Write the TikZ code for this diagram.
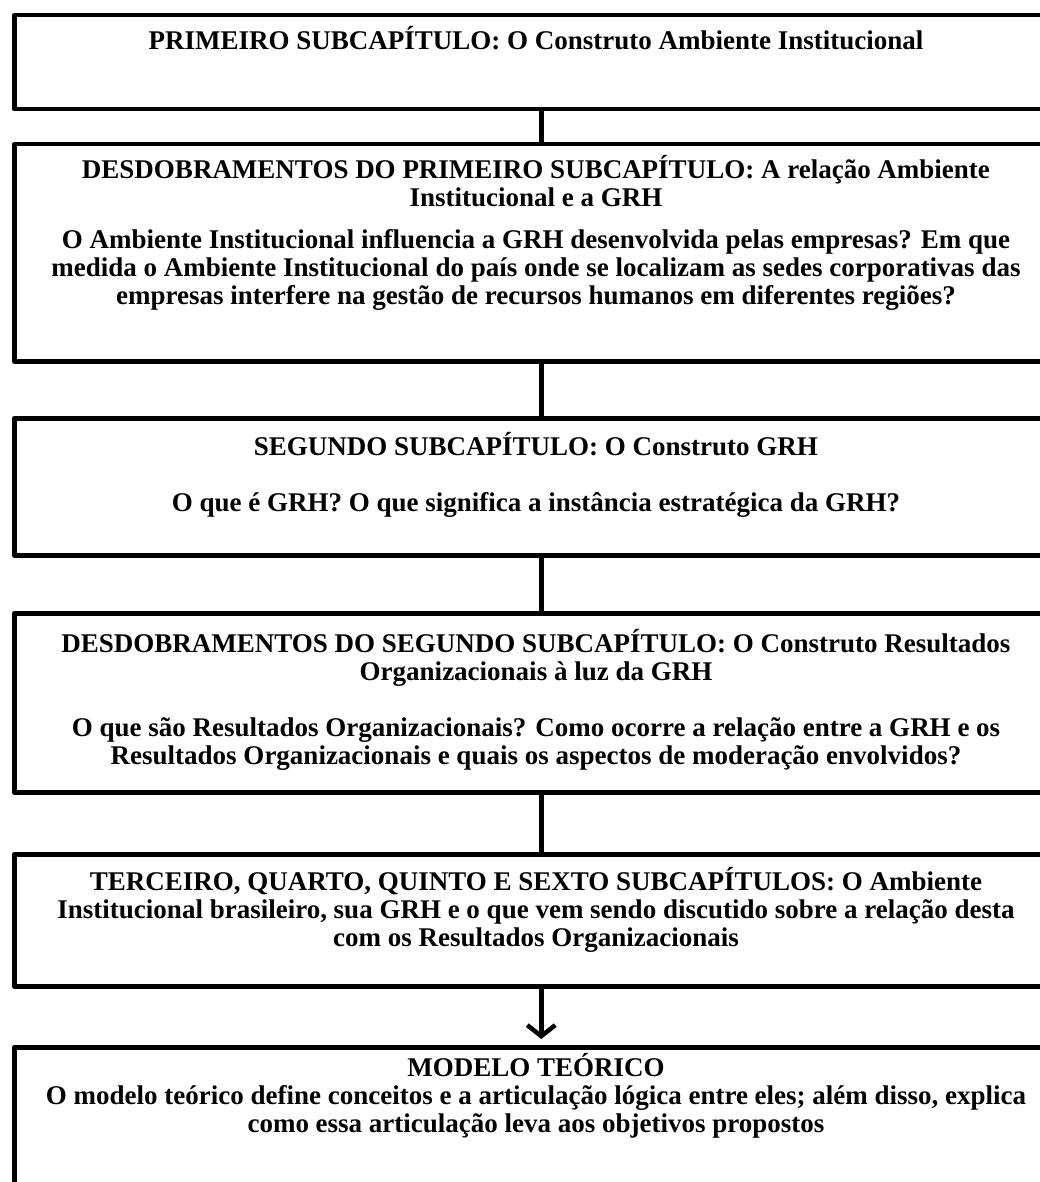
\documentclass[tikz,border=0pt]{standalone}
\usepackage{fontspec}
\setmainfont{Liberation Serif}
\usetikzlibrary{arrows.meta}
\begin{document}
\begin{tikzpicture}[x=1pt,y=-1pt,
  box/.style={draw, line width=4.5pt, line join=round, minimum width=1054pt,
    inner sep=0pt, anchor=north west},
  txt/.style={font=\fontsize{27}{28}\selectfont\bfseries, inner sep=0pt, anchor=base},
  link/.style={line width=4.5pt},
  arrowlink/.style={line width=4.5pt, -{Straight Barb[length=11pt,width=28pt,line width=4.5pt]}, shorten >=6pt}]
\useasboundingbox (0,0) rectangle (1040,1182);
\clip (0,0) rectangle (1040,1182);

% frames of the six stages
\node[box, minimum height=94pt]  (b1) at (12,13) {};
\node[box, minimum height=217pt] (b2) at (12,142) {};
\node[box, minimum height=137pt] (b3) at (12,416) {};
\node[box, minimum height=179pt] (b4) at (12,611) {};
\node[box, minimum height=132pt] (b5) at (12,852) {};
\node[box, minimum height=200pt] (b6) at (12,1045) {};

% stage texts
\node[txt] (t1) at (536,50) {\begin{tabular}[t]{@{}c@{}}
PRIMEIRO SUBCAPÍTULO: O Construto Ambiente Institucional
\end{tabular}};

\node[txt] (t2) at (536,179) {\begin{tabular}[t]{@{}c@{}}
DESDOBRAMENTOS DO PRIMEIRO SUBCAPÍTULO: A relação Ambiente\\
Institucional e a GRH\\[14pt]
O Ambiente Institucional influencia a GRH desenvolvida pelas empresas? Em que\\
medida o Ambiente Institucional do país onde se localizam as sedes corporativas das\\
empresas interfere na gestão de recursos humanos em diferentes regiões?
\end{tabular}};

\node[txt] (t3) at (536,455) {\begin{tabular}[t]{@{}c@{}}
SEGUNDO SUBCAPÍTULO: O Construto GRH\\[28pt]
O que é GRH? O que significa a instância estratégica da GRH?
\end{tabular}};

\node[txt] (t4) at (536,652) {\begin{tabular}[t]{@{}c@{}}
DESDOBRAMENTOS DO SEGUNDO SUBCAPÍTULO: O Construto Resultados\\
Organizacionais à luz da GRH\\[28pt]
O que são Resultados Organizacionais? Como ocorre a relação entre a GRH e os\\
Resultados Organizacionais e quais os aspectos de moderação envolvidos?
\end{tabular}};

\node[txt] (t5) at (536,890) {\begin{tabular}[t]{@{}c@{}}
TERCEIRO, QUARTO, QUINTO E SEXTO SUBCAPÍTULOS: O Ambiente\\
Institucional brasileiro, sua GRH e o que vem sendo discutido sobre a relação desta\\
com os Resultados Organizacionais
\end{tabular}};

\node[txt] (t6) at (536,1076) {\begin{tabular}[t]{@{}c@{}}
MODELO TEÓRICO\\
O modelo teórico define conceitos e a articulação lógica entre eles; além disso, explica\\
como essa articulação leva aos objetivos propostos
\end{tabular}};

% connectors between stages
\draw[link] (b1.south) -- (b2.north);
\draw[link] (b2.south) -- (b3.north);
\draw[link] (b3.south) -- (b4.north);
\draw[link] (b4.south) -- (b5.north);
\draw[arrowlink] (b5.south) -- (b6.north);
\end{tikzpicture}
\end{document}
